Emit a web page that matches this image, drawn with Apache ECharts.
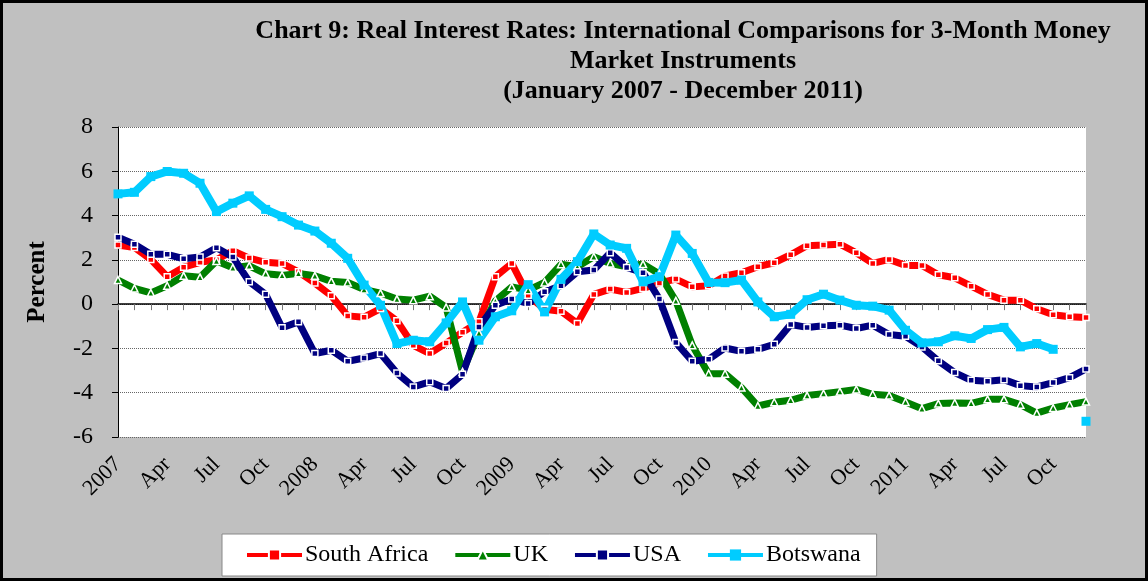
<!DOCTYPE html>
<html>
<head>
<meta charset="utf-8">
<script src="https://cdn.jsdelivr.net/npm/echarts@6/dist/echarts.min.js"></script>
<style>
  html, body { margin: 0; padding: 0; background: #c0c0c0; }
  #chart { width: 1148px; height: 581px; }
</style>
</head>
<body>
<div id="chart"></div>
<script>
// tick labels: a year on January, month names otherwise
const years = ['2007', '2008', '2009', '2010', '2011']
const monthNames = ['', 'Feb', 'Mar', 'Apr', 'May', 'Jun', 'Jul', 'Aug', 'Sep', 'Oct', 'Nov', 'Dec']
const categories = []
years.forEach(y => monthNames.forEach((m, i) => categories.push(i === 0 ? y : m)))

const southAfrica = [2.67, 2.56, 2.02, 1.24, 1.67, 1.89, 2.0, 2.41, 2.08, 1.89,
  1.84, 1.46, 0.95, 0.38, -0.53, -0.59, -0.2, -0.75, -1.86, -2.23,
  -1.76, -1.27, -0.8, 1.24, 1.84, 0.4, -0.23, -0.32, -0.87, 0.44,
  0.68, 0.53, 0.71, 0.96, 1.13, 0.78, 0.83, 1.27, 1.42, 1.69,
  1.87, 2.23, 2.64, 2.67, 2.71, 2.32, 1.84, 2.02, 1.75, 1.75,
  1.33, 1.19, 0.81, 0.44, 0.18, 0.18, -0.21, -0.48, -0.57, -0.6]

const uk = [1.09, 0.71, 0.51, 0.83, 1.28, 1.21, 1.95, 1.64, 1.73, 1.37,
  1.3, 1.39, 1.28, 1.03, 0.98, 0.66, 0.5, 0.23, 0.18, 0.36,
  -0.15, -3.06, -1.3, 0.15, 0.78, 0.63, 0.98, 1.8, 1.69, 2.14,
  1.84, 1.69, 1.81, 1.36, 0.15, -1.86, -3.14, -3.14, -3.77, -4.6,
  -4.43, -4.34, -4.13, -4.04, -3.95, -3.85, -4.07, -4.13, -4.42, -4.72,
  -4.49, -4.46, -4.48, -4.3, -4.3, -4.54, -4.92, -4.69, -4.54, -4.4]

const usa = [3.02, 2.71, 2.25, 2.25, 2.05, 2.13, 2.55, 2.13, 1.01, 0.45,
  -1.07, -0.8, -2.23, -2.08, -2.58, -2.43, -2.23, -3.11, -3.74, -3.51,
  -3.81, -3.17, -1.03, -0.05, 0.23, 0.03, 0.56, 0.83, 1.46, 1.54,
  2.32, 1.66, 1.42, 0.23, -1.73, -2.58, -2.49, -1.98, -2.13, -2.04,
  -1.81, -0.92, -1.05, -0.98, -0.95, -1.1, -0.95, -1.37, -1.45, -1.93,
  -2.56, -3.09, -3.44, -3.48, -3.41, -3.68, -3.74, -3.54, -3.32, -2.93]

const botswana = [4.98, 5.05, 5.76, 5.99, 5.91, 5.46, 4.18, 4.56, 4.89, 4.28,
  3.95, 3.57, 3.3, 2.75, 2.07, 0.86, -0.05, -1.78, -1.63, -1.7,
  -0.85, 0.1, -1.63, -0.57, -0.3, 0.88, -0.35, 1.12, 1.92, 3.17,
  2.67, 2.52, 1.01, 1.24, 3.12, 2.29, 0.98, 0.97, 1.09, 0.1,
  -0.57, -0.46, 0.2, 0.45, 0.18, -0.05, -0.09, -0.27, -1.18, -1.75,
  -1.7, -1.43, -1.55, -1.15, -1.05, -1.93, -1.78, -2.04, null, -5.29]

const serif = 'Liberation Serif'

function lineSeries(name, data, color, symbol, width) {
  return {
    name,
    type: 'line',
    data,
    symbol,
    symbolSize: symbol === 'triangle' ? 7 : 6,
    showSymbol: true,
    showAllSymbol: true,
    connectNulls: false,
    lineStyle: { color, width },
    itemStyle: { color, borderColor: '#fff', borderWidth: 1.5 },
    emphasis: { disabled: true },
  }
}

const myChart = echarts.init(document.getElementById('chart'))

const option = {
  backgroundColor: '#c0c0c0',
  animation: false,
  title: {
    text: 'Chart 9: Real Interest Rates: International Comparisons for 3-Month Money\nMarket Instruments\n(January 2007 - December 2011)',
    left: 678,
    top: 11,
    textAlign: 'center',
    textStyle: {
      fontFamily: serif,
      fontWeight: 'bold',
      fontSize: 26,
      lineHeight: 30,
      color: '#000',
    },
  },
  legend: {
    left: 222,
    top: 534,
    itemWidth: 55,
    itemHeight: 14,
    itemGap: 25,
    padding: [9, 16, 9, 23],
    backgroundColor: '#fff',
    borderColor: '#888',
    borderWidth: 1,
    lineStyle: { width: 4 },
    textStyle: { fontFamily: serif, fontSize: 24, color: '#000', padding: [0, 0, 0, -2] },
    data: ['South Africa', 'UK', 'USA', 'Botswana'],
  },
  grid: {
    left: 118,
    right: 62,
    top: 127,
    bottom: 144,
    show: true,
    backgroundColor: '#fff',
    borderWidth: 0,
  },
  xAxis: [
    {
      type: 'category',
      data: categories,
      boundaryGap: false,
      position: 'bottom',
      axisLine: { show: false, onZero: false },
      axisTick: { show: false },
      axisLabel: {
        interval: 2,
        rotate: 45,
        margin: 24,
        fontFamily: serif,
        fontSize: 22,
        color: '#000',
      },
      splitLine: { show: false },
    },
    {
      // zero line with its ticks
      type: 'category',
      data: categories,
      boundaryGap: false,
      position: 'top',
      axisLine: { show: true, onZero: true, lineStyle: { color: '#000', width: 1.5 } },
      axisTick: { show: true, inside: true, length: 6, interval: 0, lineStyle: { color: '#777' } },
      axisLabel: { show: false },
      splitLine: { show: false },
    },
  ],
  yAxis: {
    type: 'value',
    min: -6,
    max: 8,
    interval: 2,
    name: 'Percent',
    nameLocation: 'middle',
    nameGap: 68,
    nameTextStyle: { fontFamily: serif, fontWeight: 'bold', fontSize: 25, color: '#000' },
    axisLine: { show: true, lineStyle: { color: '#000' } },
    axisTick: { show: true, length: 6, lineStyle: { color: '#000' } },
    axisLabel: { fontFamily: serif, fontSize: 24, color: '#000', margin: 25 },
    splitLine: { lineStyle: { type: 'dotted', color: '#666' } },
  },
  graphic: [
    {
      type: 'rect',
      shape: { x: 1.5, y: 1.5, width: 1145, height: 578 },
      style: { fill: 'none', stroke: '#000', lineWidth: 3 },
      silent: true,
    },
  ],
  series: [
    lineSeries('South Africa', southAfrica, '#ff0000', 'rect', 7),
    lineSeries('UK', uk, '#008000', 'triangle', 7),
    lineSeries('USA', usa, '#000080', 'rect', 7),
    {
      name: 'Botswana',
      type: 'line',
      data: botswana,
      symbol: 'rect',
      symbolSize: 9,
      showSymbol: true,
      showAllSymbol: true,
      connectNulls: false,
      lineStyle: { color: '#00ccff', width: 8 },
      itemStyle: { color: '#00ccff' },
      emphasis: { disabled: true },
    },
  ],
}

option && myChart.setOption(option)
</script>
</body>
</html>
